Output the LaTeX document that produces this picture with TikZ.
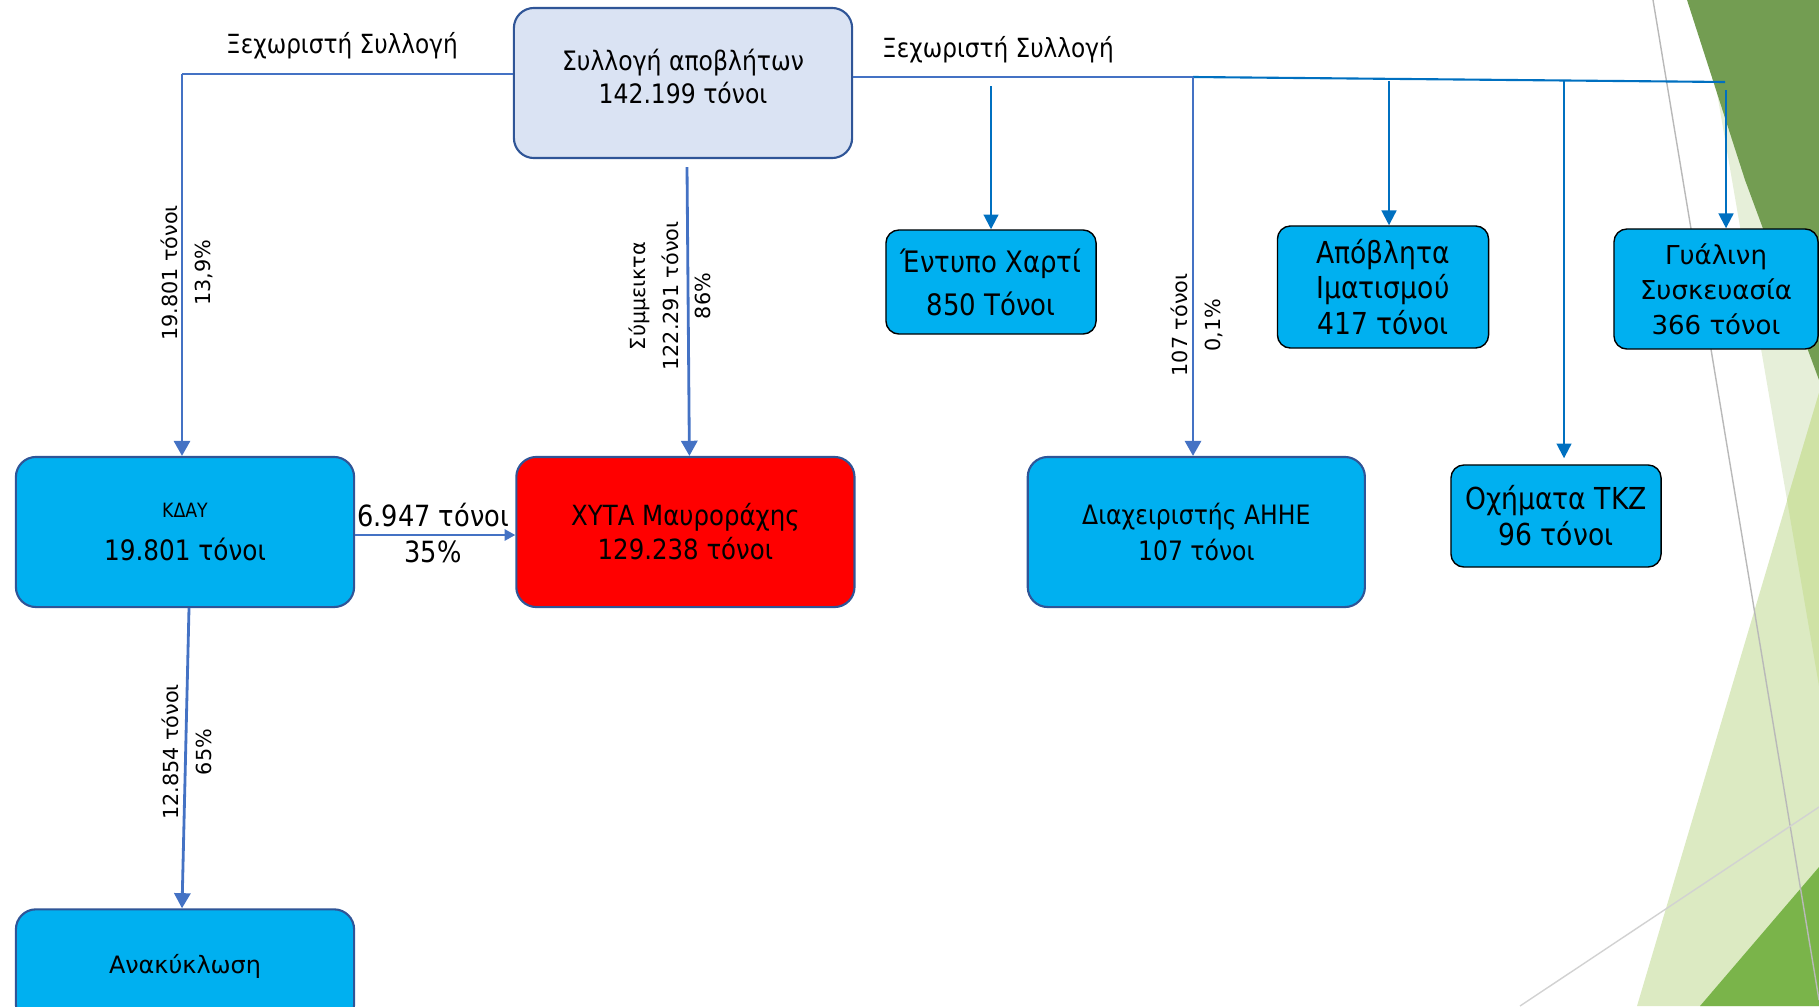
\documentclass[tikz,border=0pt]{standalone}
\usepackage{fontspec}
\setmainfont{DejaVu Sans}[FakeStretch=0.88]
\newfontfamily\widefont{DejaVu Sans}
\usepackage{xcolor}
\usetikzlibrary{arrows.meta, positioning, calc}
\definecolor{boxblue}{HTML}{00B0F0}
\definecolor{edgeblue}{HTML}{2F5597}
\definecolor{paleblue}{HTML}{DAE3F3}
\definecolor{flowblue}{HTML}{4472C4}
\definecolor{sortblue}{HTML}{0070C0}
\definecolor{leafdark}{HTML}{739D52}
\definecolor{leafgreen}{HTML}{7AB44A}
\definecolor{leaflight}{HTML}{DCEAC2}
\definecolor{leafpale}{HTML}{E6EFD9}
\definecolor{leafmid}{HTML}{CFE2A5}

\begin{document}
\begin{tikzpicture}[
  x=0.01cm, y=-0.01cm,
  box/.style={rectangle, draw=edgeblue, line width=0.6pt, fill=boxblue, rounded corners=0.2cm, minimum width=3.38cm, minimum height=1.5cm, align=center, inner sep=2pt},
  tag/.style={rectangle, draw=black, line width=0.4pt, fill=boxblue, rounded corners=0.13cm, align=center, inner sep=2pt},
  flow/.style={rotate=90, align=center, font=\widefont\fontsize{5.9}{9.3}\selectfont},
  arr/.style={-{Triangle[length=4.3pt, width=4.6pt]}, line width=0.8pt, color=flowblue},
  sarr/.style={-{Triangle[length=4.2pt, width=4.2pt]}, line width=0.6pt, color=sortblue},
  feed/.style={line width=0.35pt, color=flowblue},
]
\useasboundingbox (0,0) rectangle (1819,1006);

% Background
\fill[leafpale] (1701,0) -- (1819,0) -- (1819,686) -- cycle;
\fill[leaflight] (1637,1006) -- (1819,393) -- (1819,1006) -- cycle;
\fill[leafmid] (1819,393) -- (1787,500) -- (1819,686) -- cycle;
\fill[leafdark] (1687,0) -- (1819,0) -- (1819,380) -- (1745,180) -- cycle;
\fill[leafgreen] (1700,1006) -- (1819,867) -- (1819,1006) -- cycle;
\draw[gray!55, line width=0.4pt] (1653,0) -- (1819,1000);
\draw[gray!35, line width=0.4pt] (1520,1006) -- (1819,807);

% Collection
\node[box, fill=paleblue, font=\fontsize{7.6}{9.4}\selectfont] (coll) at (683,83) {Συλλογή αποβλήτων\\142.199 τόνοι\\[-5.5pt]};

% Treatment and disposal
\node[box] (kday) at (185,532) {\fontsize{5.6}{12}\selectfont ΚΔΑΥ\\\fontsize{8}{12.2}\selectfont 19.801 τόνοι};
\node[box, fill=red, right=1.6cm of kday, font=\fontsize{7.9}{9.7}\selectfont] (xyta) {ΧΥΤΑ Μαυροράχης\\129.238 τόνοι};
\node[box, right=1.71cm of xyta, minimum width=3.37cm, font=\fontsize{7.6}{10.2}\selectfont] (aee) {Διαχειριστής ΑΗΗΕ\\107 τόνοι};
\node[box, below=3cm of kday, minimum height=1.15cm, font=\widefont\fontsize{6.8}{9}\selectfont] (recy) {Ανακύκλωση};

% Separate streams
\node[tag, minimum width=2.1cm, minimum height=1.04cm, font=\fontsize{8.4}{12.2}\selectfont] (paper) at (991,282) {Έντυπο Χαρτί\\850 Τόνοι};
\node[tag, minimum width=2.11cm, minimum height=1.22cm, font=\fontsize{8.6}{10}\selectfont] (cloth) at (1383,287) {Απόβλητα\\Ιματισμού\\417 τόνοι};
\node[tag, minimum width=2.04cm, minimum height=1.2cm, font=\widefont\fontsize{7.4}{10}\selectfont] (glass) at (1716,289) {Γυάλινη\\Συσκευασία\\366 τόνοι};
\node[tag, minimum width=2.1cm, minimum height=1.02cm, font=\fontsize{8.6}{10.2}\selectfont] (cars) at (1556,516) {Οχήματα ΤΚΖ\\96 τόνοι};

% Labels
\node[font=\fontsize{7.5}{9}\selectfont] (sepl) at (342,46) {Ξεχωριστή Συλλογή};
\node[font=\fontsize{7.5}{9}\selectfont] (sepr) at (998,50) {Ξεχωριστή Συλλογή};
\node[flow] (lk) at (187,273) {19.801 τόνοι\\13,9\%};
\node[flow] (lm) at (670,296) {Σύμμεικτα\\122.291 τόνοι\\86\%};
\node[flow] (la) at (1197,325) {107 τόνοι\\0,1\%};
\node[flow] (lr) at (187,752) {12.854 τόνοι\\65\%};
\node[font=\fontsize{8.3}{10.5}\selectfont, align=center] (lx) at (433,533) {6.947 τόνοι\\35\%};

% Arrows
\coordinate (jl) at (182,74);
\coordinate (jr) at (1193,77);
\coordinate (jend) at (1725,82);

\draw[feed] (coll.west |- jl) -- (jl);
\draw[arr] (jl) -- (jl |- kday.north);
\draw[arr] ($(coll.south)+(4,8)$) -- ($(xyta.north)+(4,0)$);
\draw[arr, line width=0.5pt, -{Triangle[length=3pt, width=3.2pt]}] ($(kday.east)+(0,3)$) -- ($(xyta.west)+(0,3)$);
\draw[arr] ($(kday.south)+(4,0)$) -- ($(recy.north)+(-3,0)$);
\draw[feed] (jr -| coll.east) -- (jr);
\draw[line width=0.6pt, sortblue] (jr) -- (jend);
\draw[sarr] ($(paper.north |- jr)+(0,9)$) -- (paper.north);
\draw[arr] (jr) -- (jr |- aee.north);
\draw[sarr] ($(cloth.north |- jr)+(6,4)$) -- ($(cloth.north)+(6,0)$);
\draw[sarr] ($(cars.north |- jr)+(8,3)$) -- ($(cars.north)+(8,-6)$);
\draw[sarr] ($(glass.north |- jend)+(10,8)$) -- ($(glass.north)+(10,0)$);

\end{tikzpicture}
\end{document}
